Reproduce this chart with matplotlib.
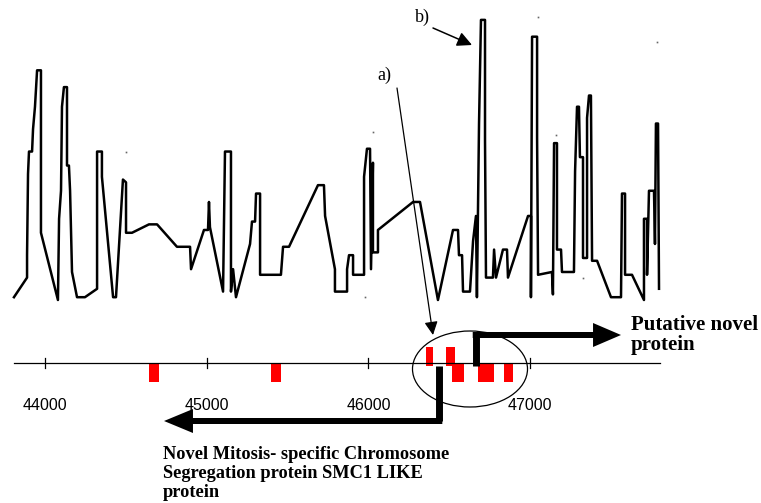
import matplotlib

matplotlib.use("Agg")
import matplotlib.pyplot as plt
from matplotlib.patches import Ellipse, FancyArrow

# sliding-window score along the contig (bp, arbitrary score 0-100)
pos = [43808, 43889, 43889, 43895, 43901, 43920, 43926, 43938, 43951, 43975,
       43975, 44080, 44087, 44099, 44105, 44117, 44136, 44136, 44148, 44155,
       44167, 44198, 44247, 44322, 44322, 44352, 44352, 44421, 44439, 44482,
       44501, 44501, 44538, 44643, 44693, 44816, 44897, 44903, 44983, 45008,
       45014, 45020, 45101, 45113, 45150, 45150, 45163, 45181, 45268, 45280,
       45299, 45305, 45330, 45330, 45459, 45472, 45509, 45688, 45725, 45732,
       45793, 45793, 45868, 45868, 45880, 45905, 45905, 45973, 45973, 45991,
       46010, 46016, 46028, 46028, 46059, 46059, 46276, 46319, 46430, 46523,
       46554, 46560, 46579, 46585, 46628, 46647, 46665, 46671, 46684, 46696,
       46721, 46721, 46727, 46770, 46777, 46789, 46832, 46857, 46863, 46987,
       47005, 47005, 47012, 47043, 47043, 47049, 47135, 47141, 47148, 47166,
       47166, 47191, 47197, 47271, 47278, 47290, 47302, 47308, 47327, 47327,
       47352, 47352, 47364, 47376, 47383, 47414, 47500, 47562, 47568, 47587,
       47587, 47630, 47704, 47704, 47723, 47723, 47735, 47766, 47772, 47778,
       47791, 47797]
score = [1, 8, 16, 45, 53, 53, 61, 69, 82, 82,
         24, 0, 29, 39, 69, 76, 76, 48, 48, 39,
         10, 1, 1, 4, 53, 53, 44, 1, 1, 43,
         42, 24, 24, 27, 27, 19, 19, 11, 25, 25,
         35, 26, 3, 53, 53, 3, 11, 1, 20, 28,
         28, 38, 38, 9, 9, 19, 19, 41, 41, 30,
         11, 3, 3, 11, 16, 16, 9, 9, 44, 54,
         54, 11, 49, 17, 17, 25, 35, 35, 0, 25,
         25, 16, 16, 3, 3, 21, 30, 1, 63, 100,
         100, 57, 8, 8, 18, 8, 18, 18, 8, 30,
         30, 1, 94, 94, 58, 9, 10, 2, 56, 56,
         18, 18, 10, 10, 46, 69, 69, 51, 51, 15,
         15, 65, 73, 73, 14, 14, 1, 1, 38, 38,
         9, 9, 0, 29, 29, 9, 39, 39, 20, 63,
         63, 4]

# stray single points
dot_pos = [44501, 46028, 45979, 47049, 47785, 47160, 47327]
dot_score = [53, 60, 1, 101, 92, 59, 8]

# features on the map (red boxes), strand +1 above the line, -1 below
feat_start = [44646, 45398, 46356, 46480, 46514, 46678, 46838]
feat_end = [44705, 45459, 46402, 46535, 46589, 46777, 46894]
feat_strand = [-1, -1, 1, 1, -1, -1, -1]

ticks = [44000, 45000, 46000, 47000]
line_start, line_end = 43808, 47803

smc1_start, smc1_tip = 46437, 44736
novel_start, novel_tip = 46665, 47562

W, H = 761, 503
X0, X1 = 43721.7, 48427.7

fig = plt.figure(figsize=(W / 100, H / 100), dpi=100)

# score trace
ax = fig.add_axes([0, 193 / H, 1, 310 / H])
ax.plot(pos, score, color="black", lw=1.8)
ax.plot(dot_pos, dot_score, "s", ms=1.2, color="0.4", mec="none")
ax.set_xlim(X0, X1)
ax.set_ylim(-3.57, 107.1)
ax.axis("off")

# gene map, y in pixels relative to the line
mp = fig.add_axes([0, 0, 1, 193 / H])
mp.set_xlim(X0, X1)
mp.set_ylim(-140, 53)
mp.axis("off")
mp.plot([line_start, line_end], [0, 0], color="black", lw=0.9)
for t in ticks:
    mp.plot([t, t], [-5, 5], color="black", lw=0.9)
    mp.text(t, -42, str(t), ha="center", va="center", fontsize=11.5,
            family="Liberation Sans")
for s, e, st in zip(feat_start, feat_end, feat_strand):
    if st > 0:
        mp.bar(s, 19, width=e - s, bottom=-3, align="edge", color="red", lw=0)
    else:
        mp.bar(s, -19, width=e - s, bottom=0, align="edge", color="red", lw=0)

mp.plot([smc1_start, smc1_start], [-3, -58], color="black", lw=5,
        solid_capstyle="butt")
mp.add_patch(FancyArrow(smc1_start + 20, -58, smc1_tip - smc1_start - 20, 0,
                        width=6, head_width=24, head_length=179,
                        length_includes_head=True, color="black", lw=0))
mp.plot([novel_start, novel_start], [-3, 28], color="black", lw=5,
        solid_capstyle="butt")
mp.add_patch(FancyArrow(novel_start - 20, 28, novel_tip - novel_start + 20, 0,
                        width=6, head_width=24, head_length=173,
                        length_includes_head=True, color="black", lw=0))

# annotations in pixel space
ov = fig.add_axes([0, 0, 1, 1], facecolor="none")
ov.set_xlim(0, W)
ov.set_ylim(H, 0)
ov.axis("off")
ov.add_patch(Ellipse((470, 369), 115, 76, fill=False, lw=0.9, color="black"))

serif = "Liberation Serif"
ov.text(631, 330, "Putative novel", fontsize=15, fontweight="bold", family=serif)
ov.text(631, 350, "protein", fontsize=15, fontweight="bold", family=serif)
ov.text(163, 459, "Novel Mitosis- specific Chromosome", fontsize=13.2,
        fontweight="bold", family=serif)
ov.text(163, 478, "Segregation protein SMC1 LIKE", fontsize=13.2,
        fontweight="bold", family=serif)
ov.text(163, 497, "protein", fontsize=13.2, fontweight="bold", family=serif)

ov.text(377, 80, "a)", fontsize=13, family=serif)
ov.text(415, 22, "b)", fontsize=13, family=serif)
ov.annotate("", xy=(433, 335), xytext=(397, 88),
            arrowprops=dict(arrowstyle="-|>", lw=0.9, color="black",
                            mutation_scale=20, shrinkA=0, shrinkB=0))
ov.annotate("", xy=(472, 45), xytext=(433, 28),
            arrowprops=dict(arrowstyle="-|>", lw=1.1, color="black",
                            mutation_scale=22, shrinkA=0, shrinkB=0))

fig.savefig("out.png", dpi=100)
